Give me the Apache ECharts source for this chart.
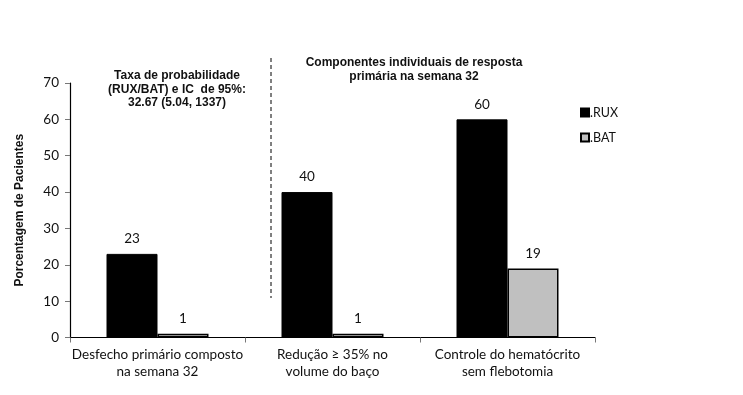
<!DOCTYPE html>
<html>
<head>
<meta charset="utf-8">
<script src="https://cdn.jsdelivr.net/npm/echarts@6/dist/echarts.min.js"></script>
<style>
html,body{margin:0;padding:0;background:#fff;}
#chart{width:743px;height:395px;}
</style>
</head>
<body>
<div id="chart"></div>
<script>
const categories = ['Desfecho primário composto\nna semana 32', 'Redução ≥ 35% no\nvolume do baço', 'Controle do hematócrito\nsem flebotomia'];
const ruxValues = [23, 40, 60];
const batValues = [1, 1, 19];
const seriesNames = ['.RUX', '.BAT'];
const yTicks = { min: 0, max: 70, interval: 10 };
const annotationLeft = ['Taxa de probabilidade', '(RUX/BAT) e IC  de 95%:', '32.67 (5.04, 1337)'];
const annotationRight = ['Componentes individuais de resposta', 'primária na semana 32'];
const yAxisTitle = 'Porcentagem de Pacientes';

const chart = echarts.init(document.getElementById('chart'));
const tickFont = 'Lato, "Open Sans", sans-serif';
const boldFont = '"Liberation Sans", Arial, sans-serif';

chart.setOption({
  animation: false,
  backgroundColor: '#fff',
  grid: { left: 70, right: 148, top: 83, bottom: 57.5, containLabel: false },
  legend: {
    orient: 'vertical',
    left: 575,
    top: 101,
    itemWidth: 8,
    itemHeight: 8,
    itemGap: 12,
    icon: 'rect',
    textStyle: { fontFamily: tickFont, fontSize: 12.5, color: '#111', padding: [0, 0, 0, -4] },
    data: seriesNames
  },
  xAxis: {
    type: 'category',
    data: categories,
    axisLine: { lineStyle: { color: '#000', width: 1.2 } },
    axisTick: { show: true, length: 5, lineStyle: { color: '#777' } },
    axisLabel: { interval: 0, color: '#111', fontFamily: tickFont, fontSize: 13.5, lineHeight: 17, margin: 9 }
  },
  yAxis: {
    type: 'value',
    min: yTicks.min,
    max: yTicks.max,
    interval: yTicks.interval,
    name: yAxisTitle,
    nameLocation: 'middle',
    nameGap: 44,
    nameRotate: 90,
    nameTextStyle: { fontFamily: boldFont, fontWeight: 'bold', fontSize: 12, color: '#111' },
    axisLine: { show: true, lineStyle: { color: '#000', width: 1.2 } },
    axisTick: { show: true, length: 5, lineStyle: { color: '#777' } },
    splitLine: { show: false },
    axisLabel: { color: '#111', fontFamily: tickFont, fontSize: 13.5, margin: 11 }
  },
  series: [
    {
      name: seriesNames[0],
      type: 'bar',
      data: ruxValues,
      barWidth: 51,
      barGap: '0%',
      itemStyle: { color: '#000', borderColor: '#000', borderWidth: 1 },
      label: { show: true, position: 'top', distance: 8, color: '#111', fontFamily: tickFont, fontSize: 13.5 }
    },
    {
      name: seriesNames[1],
      type: 'bar',
      data: batValues,
      barWidth: 51,
      barGap: '0%',
      itemStyle: { color: '#c0c0c0', borderColor: '#000', borderWidth: 1.5 },
      label: { show: true, position: 'top', distance: 8, color: '#111', fontFamily: tickFont, fontSize: 13.5 }
    }
  ],
  graphic: [
    {
      type: 'line',
      shape: { x1: 271, y1: 58, x2: 271, y2: 298 },
      style: { stroke: '#000', lineWidth: 1, lineDash: [4, 3] }
    },
    {
      type: 'text',
      style: {
        x: 177, y: 69,
        text: annotationLeft.join('\n'),
        align: 'center',
        fontFamily: boldFont, fontWeight: 'bold', fontSize: 12, lineHeight: 13.5, fill: '#111'
      }
    },
    {
      type: 'text',
      style: {
        x: 414, y: 56,
        text: annotationRight.join('\n'),
        align: 'center',
        fontFamily: boldFont, fontWeight: 'bold', fontSize: 12, lineHeight: 14, fill: '#111'
      }
    }
  ]
});
</script>
</body>
</html>
